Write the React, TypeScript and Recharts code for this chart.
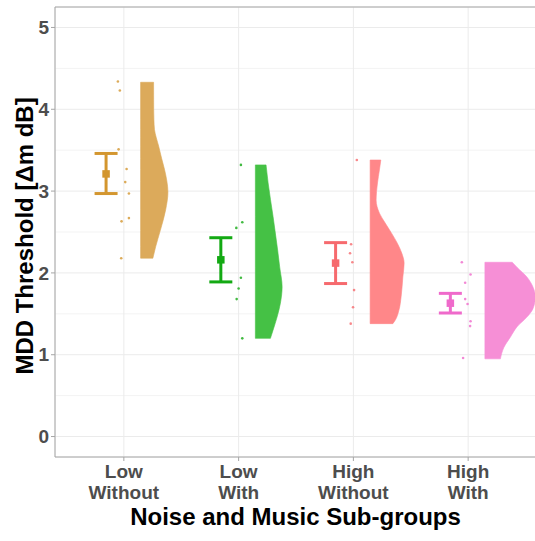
import {
  ComposedChart,
  Scatter,
  XAxis,
  YAxis,
  CartesianGrid,
  ErrorBar,
  ReferenceLine,
  Curve,
} from "recharts";

const categories = [1, 2, 3, 4];
const tickTop = ["Low", "Low", "High", "High"];
const tickBottom = ["Without", "With", "Without", "With"];
const yTicks = [0, 1, 2, 3, 4, 5];
const minorTicks = [0.5, 1.5, 2.5, 3.5, 4.5];

const lineColors = ["#D3962F", "#13A913", "#F66A6E", "#EF6ACB"];
const fillColors = ["#DCAA5B", "#45C145", "#FF8789", "#F68FD6"];

// group means and error bar limits
const means = [3.21, 2.16, 2.12, 1.63];
const errLow = [2.97, 1.89, 1.87, 1.51];
const errHigh = [3.46, 2.43, 2.37, 1.75];

// individual thresholds, with their horizontal jitter (category units)
const scores = [
  [4.34, 4.23, 3.51, 3.27, 3.11, 2.97, 2.63, 2.67, 2.18],
  [3.32, 2.62, 2.55, 1.94, 1.81, 1.68, 1.2],
  [3.38, 2.35, 2.24, 2.13, 1.79, 1.58, 1.38],
  [2.13, 1.98, 1.88, 1.68, 1.62, 1.41, 1.35, 0.96],
];
const jitter = [
  [-0.052, -0.035, -0.046, 0.024, 0.012, 0.044, -0.02, 0.044, -0.023],
  [0.02, 0.032, -0.02, 0.02, 0.0, -0.017, 0.032],
  [0.03, -0.02, -0.029, -0.009, 0.006, -0.003, -0.023],
  [-0.055, 0.021, -0.026, -0.026, -0.005, 0.021, 0.017, -0.044],
];

// half-violin density outline: levels (y) and widths (category units)
const violinLevels = [
  [2.18, 2.32, 2.52, 2.77, 2.99, 3.12, 3.26, 3.4, 3.55, 3.65, 3.75, 3.87, 4.0, 4.33],
  [1.2, 1.3, 1.46, 1.63, 1.83, 2.07, 2.28, 2.69, 3.1, 3.32],
  [1.38, 1.42, 1.54, 1.71, 1.95, 2.12, 2.24, 2.36, 2.48, 2.61, 2.73, 2.89, 3.1, 3.26, 3.38],
  [0.95, 1.09, 1.22, 1.34, 1.46, 1.56, 1.71, 1.83, 1.95, 2.07, 2.13],
];
const violinWidths = [
  [0.107, 0.131, 0.172, 0.218, 0.238, 0.229, 0.209, 0.183, 0.157, 0.137, 0.121, 0.116, 0.114, 0.113],
  [0.131, 0.154, 0.189, 0.218, 0.233, 0.212, 0.194, 0.154, 0.111, 0.093],
  [0.198, 0.218, 0.25, 0.27, 0.285, 0.296, 0.276, 0.238, 0.189, 0.131, 0.081, 0.052, 0.064, 0.081, 0.093],
  [0.135, 0.166, 0.224, 0.279, 0.366, 0.418, 0.44, 0.418, 0.366, 0.279, 0.238],
];

const VIOLIN_NUDGE = 0.146;
const MEAN_NUDGE = -0.155;
const FONT = "'Liberation Sans', Arial, Helvetica, sans-serif";

// first point marks the violin's flat side, the rest trace its outline
const violinData = categories.map((cat, g) => {
  const base = cat + VIOLIN_NUDGE;
  return [
    { x: base, y: violinLevels[g][0] },
    ...violinLevels[g].map((y, i) => ({ x: base + violinWidths[g][i], y })),
  ];
});

const pointData = categories.map((cat, g) =>
  scores[g].map((y, i) => ({ x: cat + jitter[g][i], y }))
);

const meanData = categories.map((cat, g) => [
  {
    x: cat + MEAN_NUDGE,
    y: means[g],
    err: [means[g] - errLow[g], errHigh[g] - means[g]],
  },
]);

const violinShape = (color: string) => (props: any) => {
  const [basePt, ...edge] = props.points;
  const sorted = [...edge].sort((a: any, b: any) => a.y - b.y);
  return (
    <Curve
      type="monotoneY"
      layout="vertical"
      points={sorted}
      baseLine={basePt.x}
      fill={color}
      stroke={color}
      strokeWidth={0.6}
    />
  );
};

const CategoryTick = (props: any) => {
  const { x, y, payload } = props;
  const i = categories.indexOf(payload.value);
  return (
    <text
      x={x}
      y={y}
      textAnchor="middle"
      fill="#4D4D4D"
      fontSize={19}
      fontWeight="bold"
      fontFamily={FONT}
    >
      <tspan x={x} dy={15}>
        {tickTop[i]}
      </tspan>
      <tspan x={x} dy={21}>
        {tickBottom[i]}
      </tspan>
    </text>
  );
};

export default function App() {
  return (
    <div
      style={{
        position: "absolute",
        left: 0,
        top: 0,
        width: 535,
        height: 541,
        overflow: "hidden",
        background: "#fff",
      }}
    >
      <ComposedChart
        width={537}
        height={541}
        margin={{ top: 7, right: 0, bottom: 0, left: 0 }}
      >
        <CartesianGrid
          stroke="#F3F3F3"
          vertical={false}
          horizontalValues={minorTicks}
        />
        <CartesianGrid stroke="#EBEBEB" />
        <XAxis
          type="number"
          dataKey="x"
          domain={[0.4, 4.6]}
          ticks={categories}
          height={84}
          tickSize={4}
          tickMargin={2}
          stroke="#A6A6A6"
          tick={<CategoryTick />}
        />
        <YAxis
          type="number"
          dataKey="y"
          domain={[-0.25, 5.25]}
          ticks={yTicks}
          width={55}
          tickSize={4}
          tickMargin={2}
          stroke="#A6A6A6"
          tick={{
            fill: "#4D4D4D",
            fontSize: 19,
            fontWeight: "bold",
            fontFamily: FONT,
          }}
        />
        <ReferenceLine y={5.25} stroke="#A6A6A6" />
        {categories.map((cat, g) => (
          <Scatter
            key={`violin-${cat}`}
            data={violinData[g]}
            isAnimationActive={false}
            shape={() => <g />}
            line={violinShape(fillColors[g])}
          />
        ))}
        {categories.map((cat, g) => (
          <Scatter
            key={`points-${cat}`}
            data={pointData[g]}
            isAnimationActive={false}
            shape={(p: any) => (
              <circle
                cx={p.cx}
                cy={p.cy}
                r={1.3}
                fill={lineColors[g]}
                fillOpacity={0.8}
              />
            )}
          />
        ))}
        {categories.map((cat, g) => (
          <Scatter
            key={`mean-${cat}`}
            data={meanData[g]}
            isAnimationActive={false}
            shape={(p: any) => (
              <rect
                x={p.cx - 3.75}
                y={p.cy - 3.75}
                width={7.5}
                height={7.5}
                fill={lineColors[g]}
              />
            )}
          >
            <ErrorBar
              dataKey="err"
              direction="y"
              width={11.5}
              strokeWidth={3}
              stroke={lineColors[g]}
            />
          </Scatter>
        ))}
        <text
          x={295.5}
          y={525}
          textAnchor="middle"
          fontSize={24}
          fontWeight="bold"
          fontFamily={FONT}
          fill="#000"
        >
          Noise and Music Sub-groups
        </text>
        <text
          x={33}
          y={236}
          textAnchor="middle"
          fontSize={24}
          fontWeight="bold"
          fontFamily={FONT}
          fill="#000"
          transform="rotate(-90, 33, 236)"
        >
          MDD Threshold [Δm dB]
        </text>
      </ComposedChart>
    </div>
  );
}
